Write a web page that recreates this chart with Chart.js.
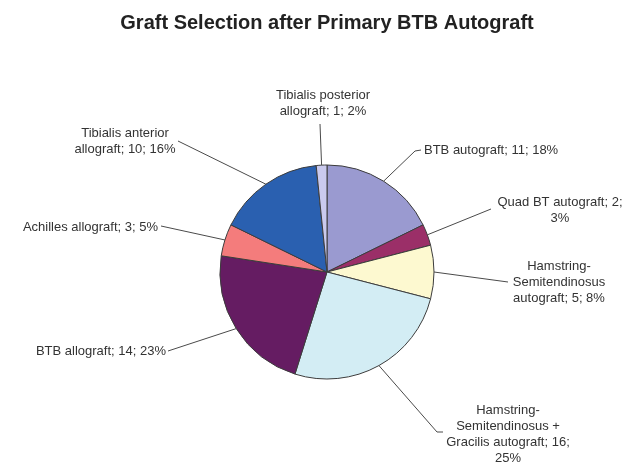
<!DOCTYPE html>
<html>
<head>
<meta charset="utf-8">
<script src="https://cdn.jsdelivr.net/npm/chart.js@4/dist/chart.umd.min.js"></script>
<style>
  html, body { margin: 0; padding: 0; background: #fff; }
  canvas { display: block; }
</style>
</head>
<body>
<canvas id="graft-chart" width="639" height="464"></canvas>
<script>
// data
const categories = [
  'BTB autograft',
  'Quad BT autograft',
  'Hamstring-Semitendinosus autograft',
  'Hamstring-Semitendinosus + Gracilis autograft',
  'BTB allograft',
  'Achilles allograft',
  'Tibialis anterior allograft',
  'Tibialis posterior allograft'
]
const counts = [11, 2, 5, 16, 14, 3, 10, 1]
const percents = [18, 3, 8, 25, 23, 5, 16, 2]

const sliceColors = ['#9a9ad0', '#9b2f68', '#fdf9d0', '#d3edf4', '#651c62', '#f47c7c', '#2a60b0', '#cacaee']

// where each label sits and how its leader line bends
const labelLayout = [
  { x: 424, y: 150, align: 'left',   wrap: Infinity, path: [[415, 151], [421, 150]] },
  { x: 560, y: 202, align: 'center', wrap: 135,      path: [[491, 209]] },
  { x: 559, y: 266, align: 'center', wrap: 100,      path: [[508, 282]] },
  { x: 508, y: 410, align: 'center', wrap: 128,      path: [[437, 432], [443, 432]] },
  { x: 166, y: 351, align: 'right',  wrap: Infinity, path: [[168, 351]] },
  { x: 158, y: 227, align: 'right',  wrap: Infinity, path: [[161, 226]] },
  { x: 125, y: 133, align: 'center', wrap: 110,      path: [[178, 141]] },
  { x: 323, y: 95,  align: 'center', wrap: 110,      path: [[320, 124]] }
]

const labelFont = '13px "Liberation Sans", Arial, sans-serif'
const lineGap = 16.3

function wrapText(ctx, text, maxWidth) {
  // break at spaces and right after hyphens
  const tokens = []
  text.split(' ').forEach((word, i) => {
    word.split(/(?<=-)/).forEach((part, j) => {
      tokens.push({ text: part, space: i > 0 && j === 0 })
    })
  })
  const lines = []
  let current = ''
  tokens.forEach(tok => {
    const candidate = current === '' ? tok.text : current + (tok.space ? ' ' : '') + tok.text
    if (current !== '' && ctx.measureText(candidate).width > maxWidth) {
      lines.push(current)
      current = tok.text
    } else {
      current = candidate
    }
  })
  if (current) lines.push(current)
  return lines
}

const leaderLabels = {
  id: 'leaderLabels',
  afterDatasetsDraw(chart) {
    const ctx = chart.ctx
    const meta = chart.getDatasetMeta(0)
    ctx.save()
    ctx.font = labelFont
    ctx.textBaseline = 'middle'
    meta.data.forEach((arc, i) => {
      const { x, y, startAngle, endAngle, outerRadius } = arc.getProps(['x', 'y', 'startAngle', 'endAngle', 'outerRadius'], true)
      const mid = (startAngle + endAngle) / 2
      const layout = labelLayout[i]

      ctx.beginPath()
      ctx.strokeStyle = '#4a4a4a'
      ctx.lineWidth = 1
      ctx.moveTo(x + Math.cos(mid) * outerRadius, y + Math.sin(mid) * outerRadius)
      layout.path.forEach(p => ctx.lineTo(p[0], p[1]))
      ctx.stroke()

      const text = `${chart.data.labels[i]}; ${counts[i]}; ${percents[i]}%`
      const lines = wrapText(ctx, text, layout.wrap)
      ctx.fillStyle = '#333'
      ctx.textAlign = layout.align
      lines.forEach((line, k) => ctx.fillText(line, layout.x, layout.y + k * lineGap))
    })
    ctx.restore()
  }
}

new Chart(document.getElementById('graft-chart').getContext('2d'), {
  type: 'pie',
  data: {
    labels: categories,
    datasets: [{
      data: counts,
      backgroundColor: sliceColors,
      borderColor: '#3c3c3c',
      borderWidth: 1
    }]
  },
  options: {
    responsive: false,
    animation: false,
    radius: 107,
    layout: {
      padding: { top: 11, left: 15, right: 0, bottom: 0 }
    },
    plugins: {
      legend: { display: false },
      tooltip: { enabled: false },
      title: {
        display: true,
        text: 'Graft Selection after Primary BTB Autograft',
        color: '#222',
        font: { family: '"Liberation Sans", Arial, sans-serif', size: 20, weight: 'bold', lineHeight: 1.2 },
        padding: { top: 0, bottom: 45 }
      }
    }
  },
  plugins: [leaderLabels]
})
</script>
</body>
</html>
